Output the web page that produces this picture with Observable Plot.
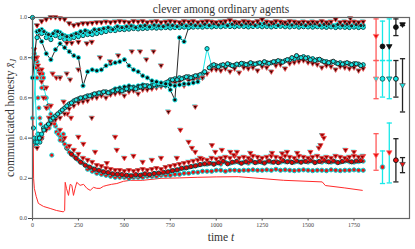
<!DOCTYPE html>
<html><head><meta charset="utf-8">
<script src="https://cdn.jsdelivr.net/npm/d3@7"></script>
<script src="https://cdn.jsdelivr.net/npm/@observablehq/plot@0.6"></script>
<style>body{margin:0;background:#fff} svg{display:block}</style>
</head><body><div id="chart"></div>
<script>
const title = "clever among ordinary agents";
const xTicks = [0,250,500,750,1000,1250,1500,1750];
const yTicks = [0,0.2,0.4,0.6,0.8,1.0];

// time grids of the tracks
const T = [25,50,75,100,125,150,175,200,225,250,
275,300,325,350,375,400,425,450,475,500,
525,550,575,600,625,650,675,700,725,750,
775,800,825,850,875,900,925,950,975,1000,
1025,1050,1075,1100,1125,1150,1175,1200,1225,1250,
1275,1300,1325,1350,1375,1400,1425,1450,1475,1500,
1525,1550,1575,1600,1625,1650,1675,1700,1725,1750,
1775,1800];
const T2 = [37,62,87,112,137,162,187,212,237,262,
287,312,337,362,387,412,437,462,487,512,
537,562,587,612,637,662,687,712,737,762,
787,812,837,862,887,912,937,962,987,1012,
1037,1062,1087,1112,1137,1162,1187,1212,1237,1262,
1287,1312,1337,1362,1387,1412,1437,1462,1487,1512,
1537,1562,1587,1612,1637,1662,1687,1712,1737,1762,
1787];

// upper group
const topStartV = 0.7;
const topV = [0.93,0.94,0.92,0.91,0.93,0.925,0.91,0.905,0.915,0.92,
0.925,0.93,0.93,0.935,0.94,0.945,0.945,0.948,0.95,0.95,
0.952,0.955,0.953,0.955,0.956,0.958,0.957,0.958,0.96,0.958,
0.96,0.96,0.962,0.96,0.962,0.963,0.962,0.964,0.963,0.965,
0.964,0.966,0.965,0.964,0.966,0.965,0.963,0.965,0.966,0.964,
0.965,0.963,0.965,0.966,0.964,0.963,0.965,0.962,0.964,0.963,
0.962,0.964,0.962,0.961,0.963,0.96,0.962,0.961,0.96,0.962,
0.96,0.961];
const top2V = [0.935,0.93,0.915,0.92,0.93,0.915,0.905,0.91,0.92,0.93,
0.935,0.925,0.94,0.94,0.945,0.95,0.94,0.955,0.95,0.955,
0.958,0.95,0.957,0.96,0.953,0.962,0.958,0.955,0.963,0.96,
0.955,0.965,0.958,0.966,0.96,0.958,0.966,0.96,0.968,0.962,
0.968,0.96,0.966,0.97,0.962,0.968,0.966,0.96,0.968,0.97,
0.962,0.968,0.96,0.97,0.966,0.962,0.968,0.965,0.96,0.966,
0.968,0.96,0.965,0.967,0.958,0.965,0.96,0.966,0.958,0.964,
0.96];
const topTriV = [0.96,0.98,0.99,1.0,1.0,0.995,0.99,0.97,0.96,0.965,
0.97,0.97,0.972,0.975,0.975,0.978,0.975,0.978,0.98,0.978,
0.975,0.98,0.978,0.98,0.975,0.978,0.98,0.975,0.978,0.98,
0.978,0.975,0.98,0.978,0.98,0.975,0.978,0.98,0.978,0.975,
0.978,0.98,0.985,0.978,0.975,0.98,0.978,0.975,0.98,0.99,
0.978,0.975,0.98,0.978,0.975,0.98,0.978,0.975,0.978,0.975,
0.978,0.975,0.98,0.975,0.978,0.99,0.975,0.978,0.975,0.978,
0.975,0.978];
const topCyanV = [0.9,0.92,0.9,0.89,0.91,0.9,0.89,0.89,0.9,0.905,
0.91,0.915,0.915,0.92,0.925,0.93,0.935,0.935,0.94,0.94,
0.942,0.945,0.943,0.945,0.946,0.948,0.947,0.948,0.95,0.948,
0.95,0.95,0.952,0.95,0.952,0.953,0.952,0.954,0.953,0.955,
0.954,0.956,0.955,0.954,0.956,0.955,0.953,0.955,0.956,0.954,
0.955,0.953,0.955,0.956,0.954,0.953,0.955,0.952,0.954,0.953,
0.952,0.954,0.952,0.951,0.953,0.95,0.952,0.951,0.95,0.952,
0.95,0.951];
const topOutT = [187,214,250,296,323,1730];
const topOutV = [0.872,0.872,0.877,0.87,0.877,0.995];

// middle group
const midBV = [0.93,0.88,0.82,0.79,0.84,0.87,0.85,0.83,0.81,0.80,
0.66,0.73,0.74,0.735,0.74,0.76,0.77,0.775,0.78,0.79,
0.76,0.74,0.73,0.71,0.70,0.685,0.68,0.675,0.67,0.64,
0.59,0.90,0.88,0.95];
const midAStartV = 1.0;
const midAV = [0.38,0.42,0.46,0.49,0.51,0.53,0.55,0.57,0.585,0.595,
0.6,0.61,0.615,0.62,0.625,0.63,0.63,0.635,0.64,0.64,
0.645,0.65,0.65,0.655,0.66,0.66,0.665,0.67,0.675,0.69,
0.695,0.70,0.70,0.705,0.705,0.71,0.72,0.845,0.76,0.76,
0.762,0.76,0.765,0.762,0.765,0.77,0.768,0.77,0.772,0.77,
0.775,0.775,0.78,0.782,0.785,0.79,0.795,0.80,0.805,0.80,
0.795,0.79,0.785,0.78,0.778,0.775,0.775,0.772,0.77,0.77,
0.768,0.765];
const midA2V = [0.40,0.44,0.47,0.50,0.52,0.54,0.56,0.575,0.59,0.6,
0.605,0.61,0.62,0.625,0.63,0.625,0.635,0.64,0.635,0.645,
0.65,0.645,0.655,0.66,0.655,0.665,0.67,0.668,0.68,0.69,
0.69,0.695,0.705,0.70,0.71,0.715,0.73,0.75,0.765,0.755,
0.765,0.77,0.76,0.768,0.772,0.765,0.775,0.768,0.775,0.78,
0.772,0.78,0.785,0.778,0.79,0.80,0.81,0.80,0.798,0.79,
0.785,0.792,0.78,0.775,0.782,0.77,0.768,0.775,0.765,0.77,
0.76];
const midCV = [0.645,0.65,0.655,0.66,0.655,0.66,0.665,0.66,0.665,0.66,
0.665,0.66,0.665,0.66,0.665,0.67,0.67,0.675,0.68,0.70];
const midTriV = [0.35,0.4,0.44,0.47,0.49,0.5,0.52,0.545,0.56,0.575,
0.58,0.585,0.6,0.6,0.61,0.6,0.615,0.62,0.625,0.61,
0.63,0.635,0.62,0.64,0.64,0.645,0.65,0.655,0.66,0.67,
0.675,0.68,0.66,0.685,0.69,0.69,0.7,0.72,0.74,0.74,
0.735,0.745,0.73,0.745,0.725,0.75,0.745,0.75,0.735,0.755,
0.75,0.73,0.76,0.765,0.745,0.77,0.775,0.78,0.785,0.775,
0.77,0.765,0.75,0.76,0.755,0.74,0.755,0.75,0.745,0.75,
0.735,0.745];
const midOutT = [150,187,205,250,323,368,423,467,541,586,620,659,700,740,886,925];
const midOutV = [0.70,0.72,0.69,0.74,0.50,0.80,0.78,0.81,0.83,0.83,0.79,0.83,0.76,0.53,0.555,0.70];

// lower group
const lowAStartV = 0.5;
const lowAV = [0.78,0.7,0.6,0.52,0.46,0.41,0.37,0.33,0.31,0.29,
0.275,0.26,0.25,0.24,0.235,0.23,0.225,0.22,0.22,0.215,
0.215,0.215,0.215,0.22,0.22,0.22,0.225,0.225,0.23,0.235,
0.24,0.245,0.25,0.255,0.26,0.265,0.27,0.27,0.275,0.275,
0.27,0.28,0.275,0.28,0.278,0.28,0.275,0.282,0.28,0.278,
0.282,0.28,0.285,0.28,0.282,0.285,0.28,0.282,0.285,0.28,
0.285,0.282,0.28,0.283,0.28,0.282,0.28,0.285,0.282,0.28,
0.283,0.285];
const lowA2V = [0.74,0.65,0.56,0.49,0.43,0.39,0.35,0.32,0.3,0.28,
0.265,0.255,0.245,0.24,0.232,0.228,0.222,0.22,0.218,0.215,
0.212,0.218,0.215,0.222,0.218,0.224,0.226,0.23,0.232,0.238,
0.242,0.25,0.252,0.258,0.262,0.268,0.272,0.275,0.27,0.278,
0.285,0.272,0.28,0.285,0.275,0.282,0.288,0.278,0.284,0.276,
0.286,0.28,0.278,0.288,0.282,0.279,0.286,0.28,0.284,0.288,
0.278,0.284,0.29,0.282,0.286,0.278,0.284,0.29,0.282,0.286,
0.288];
const lowBV = [0.245,0.235,0.225,0.22,0.215,0.21,0.205,0.205,0.205,0.2,
0.205,0.205,0.205,0.21,0.21,0.21,0.215,0.215,0.215,0.22,
0.22,0.225,0.225,0.23,0.23,0.235,0.235,0.235,0.24,0.24,
0.235,0.24,0.24,0.238,0.24,0.24,0.242,0.24,0.24,0.242,
0.24,0.245,0.24,0.242,0.24,0.238,0.24,0.242,0.24,0.238,
0.24,0.24,0.238,0.242,0.24,0.238,0.24,0.24,0.242,0.24,
0.24];
const lowTriV = [0.8,0.74,0.65,0.56,0.5,0.44,0.4,0.36,0.34,0.32,
0.3,0.29,0.28,0.265,0.26,0.25,0.245,0.24,0.24,0.235,
0.24,0.235,0.24,0.245,0.24,0.245,0.25,0.245,0.255,0.26,
0.265,0.27,0.275,0.28,0.285,0.29,0.295,0.29,0.3,0.295,
0.3,0.305,0.3,0.31,0.3,0.305,0.3,0.31,0.305,0.3,
0.305,0.31,0.305,0.3,0.31,0.305,0.3,0.31,0.305,0.3,
0.305,0.31,0.3,0.305,0.3,0.31,0.305,0.3,0.305,0.31,
0.305,0.31];
const lowOutT = [250,277,341,405,450,459,500,550,600,650,700,786,805,850,868,886,913,977,995,1031,1077,1095,1113,1186,1304,1359,1386,1441,1513,1559,1568,1577,1586,1704,1750,1795];
const lowOutV = [0.405,0.37,0.33,0.275,0.405,0.34,0.3,0.31,0.28,0.29,0.3,0.30,0.44,0.38,0.35,0.33,0.3,0.364,0.33,0.34,0.33,0.315,0.33,0.325,0.325,0.323,0.33,0.325,0.33,0.35,0.364,0.414,0.40,0.34,0.33,0.306];

// early transient
const earlyRedT = [5,10,15,20,25,30,35,40,45,50,55,60,70,80,90,105,110,120,130,140,150,168,187];
const earlyRedV = [0.8,0.82,0.79,0.75,0.7,0.6,0.55,0.5,0.47,0.65,0.72,0.7,0.6,0.55,0.45,0.315,0.5,0.47,0.43,0.42,0.39,0.42,0.355];
const earlyTriT = [10,20,30,40,50,60,75,90,100,110,130,150,170,190,210];
const earlyTriV = [0.84,0.8,0.76,0.72,0.68,0.6,0.55,0.5,0.48,0.72,0.7,0.7,0.58,0.52,0.5];
const earlyCyanT = [5,10,15,20,25,30,40,50,60];
const earlyCyanV = [0.45,0.4,0.38,0.36,0.4,0.42,0.38,0.4,0.45];

// red line
const redT = [0,3,6,10,20,32,60,96,130,168,175,178,185,196,205,214,223,232,241,259,278,296,314,332,350,368,386,405,430,459,495,532,600,700,800,900,1000,1120,1367,1577,1594,1700,1795];
const redV = [1.0,0.5,0.2,0.15,0.11,0.075,0.06,0.05,0.04,0.033,0.04,0.18,0.15,0.115,0.17,0.165,0.115,0.15,0.18,0.165,0.17,0.15,0.14,0.155,0.15,0.15,0.16,0.165,0.17,0.174,0.185,0.19,0.19,0.2,0.202,0.205,0.207,0.208,0.19,0.182,0.164,0.152,0.14];

// summary error bars
const errT = [1870,1905,1942,1978,2014];
const upMid = [0.907,0.856,0.856,0.952,0.965];
const upLo = [0.786,0.786,0.786,0.91,0.96];
const upHi = [0.993,0.982,0.993,0.993,0.97];
const mdMid = [0.695,0.695,0.695,0.695,0.662];
const mdLo = [0.596,0.604,0.596,0.604,0.53];
const mdHi = [0.786,0.786,0.786,0.786,0.795];
const lwMid = [0.314,0.256,0.328,0.29,0.27];
const lwLo = [0.24,0.174,0.177,0.182,0.228];
const lwHi = [0.422,0.336,0.475,0.397,0.303];

// ---------- build ----------
const zip = (ts, vs) => ts.map((t, i) => ({t, v: vs[i]})).filter(d => d.v != null);
const topLineRows = [{t: 0, v: topStartV}, ...zip(T, topV)];
const top2Rows = zip(T2, top2V);
const topTriRows = zip(T, topTriV);
const topCyanRows = zip(T, topCyanV);
const topOutRows = zip(topOutT, topOutV);
const midBRows = zip(T.slice(0, midBV.length), midBV);
const midARows = [{t: 0, v: midAStartV}, ...zip(T, midAV)];
const midA2Rows = zip(T2, midA2V);
const midCRows = zip(T.slice(17), midCV);
const midTriRows = zip(T, midTriV);
const midOutRows = zip(midOutT, midOutV);
const lowARows = [{t: 0, v: lowAStartV}, ...zip(T, lowAV)];
const lowA2Rows = zip(T2, lowA2V);
const lowBRows = zip(T.slice(11), lowBV);
const lowTriRows = zip(T, lowTriV);
const lowOutRows = zip(lowOutT, lowOutV);
const earlyRedRows = zip(earlyRedT, earlyRedV);
const earlyTriRows = zip(earlyTriT, earlyTriV);
const earlyCyanRows = zip(earlyCyanT, earlyCyanV);
const redRows = zip(redT, redV);

const CY = "#18e8e8", RD = "#ee1111";
const triDown = {draw(ctx, size) {
  const r = Math.sqrt(size / Math.PI);
  ctx.moveTo(-r * 1.15, -r * 0.75); ctx.lineTo(r * 1.15, -r * 0.75); ctx.lineTo(0, r * 1.2); ctx.closePath();
}};
const hcap = {draw(ctx, size) {
  const r = Math.sqrt(size / Math.PI);
  ctx.moveTo(-r, 0); ctx.lineTo(r, 0);
}};
const circ = (data, fill, stroke, r = 2.1) =>
  Plot.dot(data, {x: "t", y: "v", r, fill, stroke, strokeWidth: 1});
const tri = (data, fill, stroke, r = 2.2) => [
  Plot.dot(data, {x: "t", y: "v", symbol: triDown, r, fill: CY, dx: -0.9, dy: -0.7}),
  Plot.dot(data, {x: "t", y: "v", symbol: triDown, r, fill, stroke, strokeWidth: 0.8})
];
const line = (data, stroke, w = 0.9) => Plot.line(data, {x: "t", y: "v", stroke, strokeWidth: w});

const errColors = ["#ff5a5a", CY, CY, "#222", "#222"];
const errKinds = ["tri", "circ", "tri", "circ", "tri"];
const groups = [
  {lo: upLo, hi: upHi, mid: upMid, fill: [RD, "#111", "#111", "#111", "#111"], stroke: ["#ff6a6a", "#111", "#111", "#111", "#111"]},
  {lo: mdLo, hi: mdHi, mid: mdMid, fill: [CY, CY, CY, CY, CY], stroke: ["#ff6a6a", "#0a6060", "#0a6060", "#111", "#555"]},
  {lo: lwLo, hi: lwHi, mid: lwMid, fill: [RD, RD, RD, RD, RD], stroke: ["#ff6a6a", CY, "#ff6a6a", "#111", "#444"]}
];
const errRows = groups.flatMap(g => errT.map((t, i) => ({t, lo: g.lo[i], hi: g.hi[i], v: g.mid[i],
  color: errColors[i], kind: errKinds[i], fill: g.fill[i], stroke: g.stroke[i]})));

const chart = Plot.plot({
  width: 415, height: 249,
  marginLeft: 32, marginRight: 6, marginTop: 17, marginBottom: 31,
  x: {domain: [0, 2052], ticks: xTicks, tickFormat: d => String(d), tickSize: 2.5, tickPadding: 2, label: null},
  y: {domain: [0, 1], ticks: yTicks, tickFormat: d => d.toFixed(1), tickSize: 4, tickPadding: 1.5, label: null},
  color: {type: "identity"},
  style: {fontFamily: "'Liberation Serif', serif", fontSize: "6px", color: "#444", background: "#fff"},
  marks: [
    line(redRows, "#ff2a2a", 1),
    line(lowARows, CY, 0.9),
    line(lowBRows, CY, 0.9),
    circ(earlyCyanRows, CY, "#0a5050"),
    circ(lowBRows, RD, "#0cc"),
    circ(lowARows, RD, CY),
    circ(lowA2Rows, "#d00", "#233"),
    circ(earlyRedRows, RD, CY),
    ...tri(lowTriRows, "#9a0000", "#ff4a4a"),
    ...tri(lowOutRows, "#9a0000", "#ff4a4a"),
    ...tri(earlyTriRows, "#900000", "#ff5050"),
    line(midARows, CY, 1),
    line(midCRows, CY, 0.9),
    line(midBRows, "#111", 0.9),
    ...tri(midTriRows, "#500000", "#ff5a5a"),
    circ(midCRows, "#111", CY),
    circ(midARows, CY, "#0a5050"),
    circ(midA2Rows, CY, "#222"),
    circ(midBRows, "#111", CY),
    ...tri(midOutRows, "#400000", "#ff6a6a"),
    line(topLineRows, "#111", 1),
    circ(topCyanRows, CY, "#0a5050"),
    circ(topLineRows, "#111", CY),
    circ(top2Rows, "#222", CY),
    ...tri(topTriRows, "#300000", "#ff3a3a"),
    ...tri(topOutRows, "#300000", "#ff4a4a"),
    Plot.ruleX(errRows, {x: "t", y1: "lo", y2: "hi", stroke: "color", strokeWidth: 1.3}),
    Plot.dot(errRows, {x: "t", y: "lo", symbol: hcap, r: 2.6, stroke: "color", strokeWidth: 1.3, fill: "none"}),
    Plot.dot(errRows, {x: "t", y: "hi", symbol: hcap, r: 2.6, stroke: "color", strokeWidth: 1.3, fill: "none"}),
    Plot.dot(errRows.filter(d => d.kind === "circ"), {x: "t", y: "v", r: 2.4, fill: "fill", stroke: "stroke", strokeWidth: 0.9}),
    Plot.dot(errRows.filter(d => d.kind === "tri"), {x: "t", y: "v", symbol: triDown, r: 2.4, fill: "fill", stroke: "stroke", strokeWidth: 0.8}),
    Plot.frame({stroke: "#666", strokeWidth: 1.2}),
    Plot.text([title], {frameAnchor: "top", lineAnchor: "middle", dy: -8.5, fontSize: 11.5, fill: "#333"})
  ]
});
document.getElementById("chart").appendChild(chart);

const svgSel = d3.select(chart);
const yl = svgSel.append("text")
  .attr("transform", "translate(11,118) rotate(-90)")
  .attr("text-anchor", "middle").attr("dominant-baseline", "middle")
  .attr("font-family", "'Liberation Serif', serif").attr("font-size", 11.5).attr("fill", "#333");
yl.append("tspan").text("communicated honesty ");
yl.append("tspan").attr("font-style", "italic").text("x\u0304");
yl.append("tspan").attr("font-style", "italic").attr("font-size", 8).attr("dy", 2.5).text("J");
const xl = svgSel.append("text")
  .attr("x", 221).attr("y", 241).attr("text-anchor", "middle")
  .attr("font-family", "'Liberation Serif', serif").attr("font-size", 11.5).attr("fill", "#333");
xl.append("tspan").text("time ");
xl.append("tspan").attr("font-style", "italic").text("t");
</script>
</body></html>
